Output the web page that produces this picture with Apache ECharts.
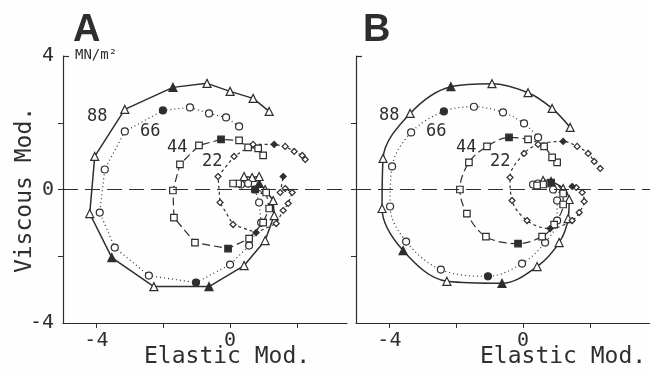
<!DOCTYPE html>
<html>
<head>
<meta charset="utf-8">
<script src="https://cdn.jsdelivr.net/npm/echarts@6/dist/echarts.min.js"></script>
<style>
  html, body { margin: 0; padding: 0; background: #fefefe; }
  #main { width: 650px; height: 371px; }
</style>
</head>
<body>
<div id="main"></div>
<script>
// elastic / viscous modulus (MN/m2)
// panel A: measured points, straight segments
const a88 = [[1.17,2.34],[0.69,2.73],[0.0,2.94],[-0.69,3.18],[-1.71,3.06],[-3.15,2.40],[-4.05,0.99],[-4.20,-0.72],[-3.54,-2.04],[-2.28,-2.91],[-0.63,-2.91],[0.42,-2.28],[1.05,-1.53],[1.32,-0.78],[1.29,-0.33],[1.05,0.0],[0.87,0.18],[0.87,0.39],[0.66,0.36],[0.42,0.39]];
const a66 = [[0.27,1.89],[-0.12,2.16],[-0.63,2.28],[-1.20,2.46],[-2.01,2.37],[-3.15,1.74],[-3.75,0.60],[-3.90,-0.69],[-3.45,-1.74],[-2.43,-2.58],[-1.02,-2.79],[0.0,-2.25],[0.57,-1.68],[0.93,-0.99],[0.87,-0.39],[0.75,0.0],[0.54,0.18],[0.33,0.15]];
const a44 = [[0.99,1.02],[0.84,1.23],[0.54,1.26],[0.27,1.47],[-0.27,1.50],[-0.93,1.32],[-1.50,0.75],[-1.71,-0.03],[-1.68,-0.84],[-1.05,-1.59],[-0.06,-1.77],[0.57,-1.47],[0.99,-0.99],[1.17,-0.57],[1.08,-0.09],[0.75,0.0],[0.24,0.18],[0.09,0.18]];
const a22 = [[2.25,0.90],[2.16,1.02],[1.92,1.14],[1.65,1.29],[1.32,1.35],[0.69,1.35],[0.12,0.99],[-0.36,0.39],[-0.30,-0.39],[0.09,-1.05],[0.78,-1.29],[1.38,-1.02],[1.59,-0.63],[1.74,-0.42],[1.86,-0.09],[1.65,0.03],[1.50,-0.09],[1.59,0.39]];

// panel B: same points, smooth curves
const b88 = [[1.41,1.86],[0.87,2.43],[0.15,2.90],[-0.93,3.17],[-2.16,3.08],[-3.38,2.28],[-4.19,0.93],[-4.22,-0.57],[-3.59,-1.83],[-2.28,-2.75],[-0.63,-2.81],[0.42,-2.31],[1.08,-1.59],[1.35,-0.87],[1.38,-0.30],[1.20,0.03],[0.84,0.24],[0.60,0.27]];
const b66 = [[0.45,1.56],[0.03,1.98],[-0.60,2.31],[-1.47,2.48],[-2.37,2.34],[-3.35,1.71],[-3.92,0.69],[-3.98,-0.51],[-3.50,-1.56],[-2.46,-2.40],[-1.05,-2.60],[-0.03,-2.22],[0.66,-1.59],[1.02,-0.93],[1.02,-0.33],[0.90,0.0],[0.72,0.18],[0.45,0.18],[0.30,0.15]];
const b44 = [[1.02,0.81],[0.87,0.96],[0.63,1.29],[0.15,1.50],[-0.42,1.56],[-1.08,1.29],[-1.62,0.81],[-1.89,0.0],[-1.68,-0.72],[-1.11,-1.41],[-0.15,-1.62],[0.57,-1.41],[0.93,-1.05],[1.20,-0.45],[1.20,-0.12],[0.84,0.21],[0.60,0.15],[0.42,0.12]];
const b22 = [[2.31,0.63],[2.13,0.84],[1.95,1.08],[1.62,1.29],[1.20,1.44],[0.45,1.35],[0.03,1.08],[-0.39,0.36],[-0.33,-0.33],[0.12,-0.93],[0.81,-1.17],[1.47,-0.93],[1.68,-0.69],[1.83,-0.36],[1.77,-0.09],[1.59,0.06],[1.47,0.09]];

// which points are drawn filled (index into the arrays above)
const a88Filled = [4, 8, 10, 16];
const a66Filled = [4, 10];
const a44Filled = [4, 10, 15];
const a22Filled = [4, 10, 17];
const b88Filled = [4, 8, 10, 16];
const b66Filled = [4, 10];
const b44Filled = [4, 10, 15];
const b22Filled = [4, 10, 16];

const xTicks = [-4, -2, 0, 2];
const xLabels = [-4, 0];
const yTicks = [-2, 0, 2];
const yLabels = [-4, 0, 4];

const ink = "#2e2e2e";
const mono = "DejaVu Sans Mono";

const chart = echarts.init(document.getElementById("main"), null, { renderer: "canvas" });

function mark(pts, filled) {
  return pts.map((p, i) =>
    filled.includes(i) ? { value: p, itemStyle: { color: ink } } : p
  );
}

function curve(name, pts, filled, grid, symbol, size, lineType, width, smooth) {
  return {
    name,
    type: "line",
    xAxisIndex: grid,
    yAxisIndex: grid,
    data: mark(pts, filled),
    smooth: smooth ? 0.35 : false,
    symbol,
    symbolSize: size,
    showAllSymbol: true,
    lineStyle: { color: ink, width, type: lineType },
    itemStyle: { color: "#fff", borderColor: ink, borderWidth: 1.2 },
  };
}

const zeroLine = {
  silent: true,
  symbol: "none",
  label: { show: false },
  lineStyle: { color: ink, width: 1.2, type: [15, 7] },
  data: [{ yAxis: 0 }],
};

function xAxisFor(grid, max) {
  return {
    type: "value",
    gridIndex: grid,
    position: "bottom",
    min: -5,
    max,
    axisLine: { onZero: false, lineStyle: { color: ink, width: 1.2 } },
    axisTick: { customValues: xTicks, length: 5, lineStyle: { color: ink } },
    axisLabel: {
      customValues: xLabels,
      color: ink,
      fontFamily: mono,
      fontSize: 20,
      margin: 8,
    },
    splitLine: { show: false },
  };
}

function yAxisFor(grid, withLabels) {
  return {
    type: "value",
    gridIndex: grid,
    position: "left",
    min: -4,
    max: 4,
    axisLine: { show: true, onZero: false, lineStyle: { color: ink, width: 1.2 } },
    axisTick: { show: true, customValues: yTicks, length: 5, lineStyle: { color: ink } },
    axisLabel: {
      show: withLabels,
      customValues: yLabels,
      color: ink,
      fontFamily: mono,
      fontSize: 20,
      margin: 9,
    },
    splitLine: { show: false },
  };
}

const txt = (text, left, top, size) => ({
  type: "text",
  left,
  top,
  style: { text, fill: ink, font: `${size}px "${mono}"` },
});

const options = {
  animation: false,
  backgroundColor: "#fefefe",
  grid: [
    { left: 63, top: 56, width: 284, height: 267 },
    { left: 356, top: 56, width: 294, height: 267 },
  ],
  xAxis: [xAxisFor(0, 3.5), xAxisFor(1, 3.8)],
  yAxis: [yAxisFor(0, true), yAxisFor(1, false)],
  series: [
    Object.assign(curve("88", a88, a88Filled, 0, "triangle", 8, "solid", 1.5, false), { markLine: zeroLine }),
    curve("66", a66, a66Filled, 0, "circle", 7, [1, 3], 1.2, false),
    curve("44", a44, a44Filled, 0, "rect", 6.5, [8, 4], 1.2, false),
    curve("22", a22, a22Filled, 0, "diamond", 6, [3, 3], 1.2, false),
    Object.assign(curve("88", b88, b88Filled, 1, "triangle", 8, "solid", 1.5, true), { markLine: zeroLine }),
    curve("66", b66, b66Filled, 1, "circle", 7, [1, 3], 1.2, true),
    curve("44", b44, b44Filled, 1, "rect", 6.5, [8, 4], 1.2, true),
    curve("22", b22, b22Filled, 1, "diamond", 6, [3, 3], 1.2, true),
  ],
  graphic: [
    { type: "text", left: 73, top: 12, style: { text: "A", fill: ink, font: 'bold 38px "Liberation Sans"' } },
    { type: "text", left: 363, top: 12, style: { text: "B", fill: ink, font: 'bold 38px "Liberation Sans"' } },
    // short inward tick at the top of each y axis
    { type: "line", shape: { x1: 63, y1: 56.5, x2: 69, y2: 56.5 }, style: { stroke: ink, lineWidth: 1.2 } },
    { type: "line", shape: { x1: 356, y1: 56.5, x2: 362, y2: 56.5 }, style: { stroke: ink, lineWidth: 1.2 } },
    {
      type: "text",
      x: 25,
      y: 190,
      rotation: Math.PI / 2,
      style: {
        text: "Viscous Mod.",
        fill: ink,
        font: `23px "${mono}"`,
        align: "center",
        verticalAlign: "middle",
      },
    },
    txt("MN/m²", 75, 48, 14),
    txt("Elastic Mod.", 144, 346, 23),
    txt("Elastic Mod.", 480, 346, 23),
    txt("88", 87, 108, 17),
    txt("66", 140, 123, 17),
    txt("44", 167, 139, 17),
    txt("22", 202, 153, 17),
    txt("88", 379, 107, 17),
    txt("66", 426, 123, 17),
    txt("44", 456, 139, 17),
    txt("22", 490, 153, 17),
  ],
};

chart.setOption(options);
</script>
</body>
</html>
